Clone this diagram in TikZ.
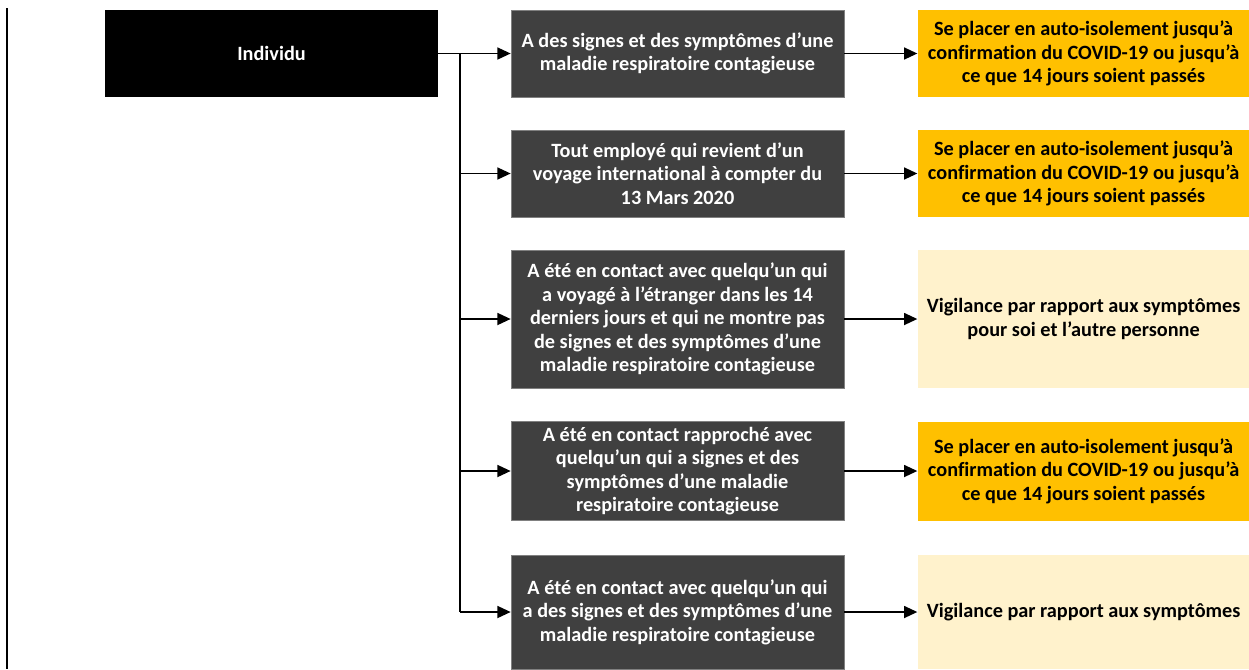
\documentclass[tikz,border=0pt]{standalone}
\usepackage{fontspec}
\setmainfont{Carlito}[Ligatures=NoCommon]
\usetikzlibrary{arrows.meta,positioning}

\definecolor{condgray}{RGB}{64,64,64}
\definecolor{actorange}{RGB}{255,192,0}
\definecolor{watchyellow}{RGB}{255,242,204}

\begin{document}
\begin{tikzpicture}[x=0.75pt,y=-0.75pt,node distance=54.75pt,
    >={Triangle[length=10pt,width=9pt]},
    every node/.style={font=\bfseries\fontsize{15.2}{17.6}\selectfont,align=center,inner sep=2pt},
    ind/.style={fill=black,text=white,minimum width=249.75pt,minimum height=65.25pt},
    cond/.style={fill=condgray,draw=gray,line width=0.5pt,text=white,minimum width=249.75pt},
    act/.style={fill=actorange,minimum width=249pt},
    watch/.style={fill=watchyellow,minimum width=249pt},
    link/.style={->,line width=1.3pt}]
  \useasboundingbox (0,0) rectangle (1249,669);

  \draw[line width=1.5pt] (7,8) -- (7,669);

  \node[ind] (ind) at (271.5,53.5) {Individu};

  \node[cond,minimum height=65.25pt] (c1) at (677.5,53.5)
    {A des signes et des symptômes d’une\\maladie respiratoire contagieuse};
  \node[cond,minimum height=65.25pt] (c2) at (677.5,173.5)
    {Tout employé qui revient d’un\\voyage international à compter du\\13 Mars 2020};
  \node[cond,minimum height=103.5pt] (c3) at (677.5,319)
    {A été en contact avec quelqu’un qui\\a voyagé à l’étranger dans les 14\\derniers jours et qui ne montre pas\\de signes et des symptômes d’une\\maladie respiratoire contagieuse};
  \node[cond,minimum height=74.25pt] (c4) at (677.5,471)
    {A été en contact rapproché avec\\quelqu’un qui a signes et des\\symptômes d’une maladie\\respiratoire contagieuse};
  \node[cond,minimum height=85.5pt] (c5) at (677.5,612)
    {A été en contact avec quelqu’un qui\\a des signes et des symptômes d’une\\maladie respiratoire contagieuse};

  \node[act,minimum height=65.25pt,right=of c1] (a1)
    {Se placer en auto-isolement jusqu’à\\confirmation du COVID-19 ou jusqu’à\\ce que 14 jours soient passés};
  \node[act,minimum height=65.25pt,right=of c2] (a2)
    {Se placer en auto-isolement jusqu’à\\confirmation du COVID-19 ou jusqu’à\\ce que 14 jours soient passés};
  \node[watch,minimum height=103.5pt,right=of c3] (a3)
    {Vigilance par rapport aux symptômes\\pour soi et l’autre personne};
  \node[act,minimum height=74.25pt,right=of c4] (a4)
    {Se placer en auto-isolement jusqu’à\\confirmation du COVID-19 ou jusqu’à\\ce que 14 jours soient passés};
  \node[watch,minimum height=85.5pt,right=of c5] (a5)
    {Vigilance par rapport aux symptômes};

  % tronc commun
  \coordinate (trunk) at (460,53.5);
  \coordinate (trunkend) at (460,612);
  \draw[line width=1.3pt] (ind.east) -- (trunk) -- (trunkend);

  \foreach \n in {1,...,5} {
    \draw[link] (trunk |- c\n) -- (c\n);
    \draw[link] (c\n) -- (a\n);
  }
\end{tikzpicture}
\end{document}
